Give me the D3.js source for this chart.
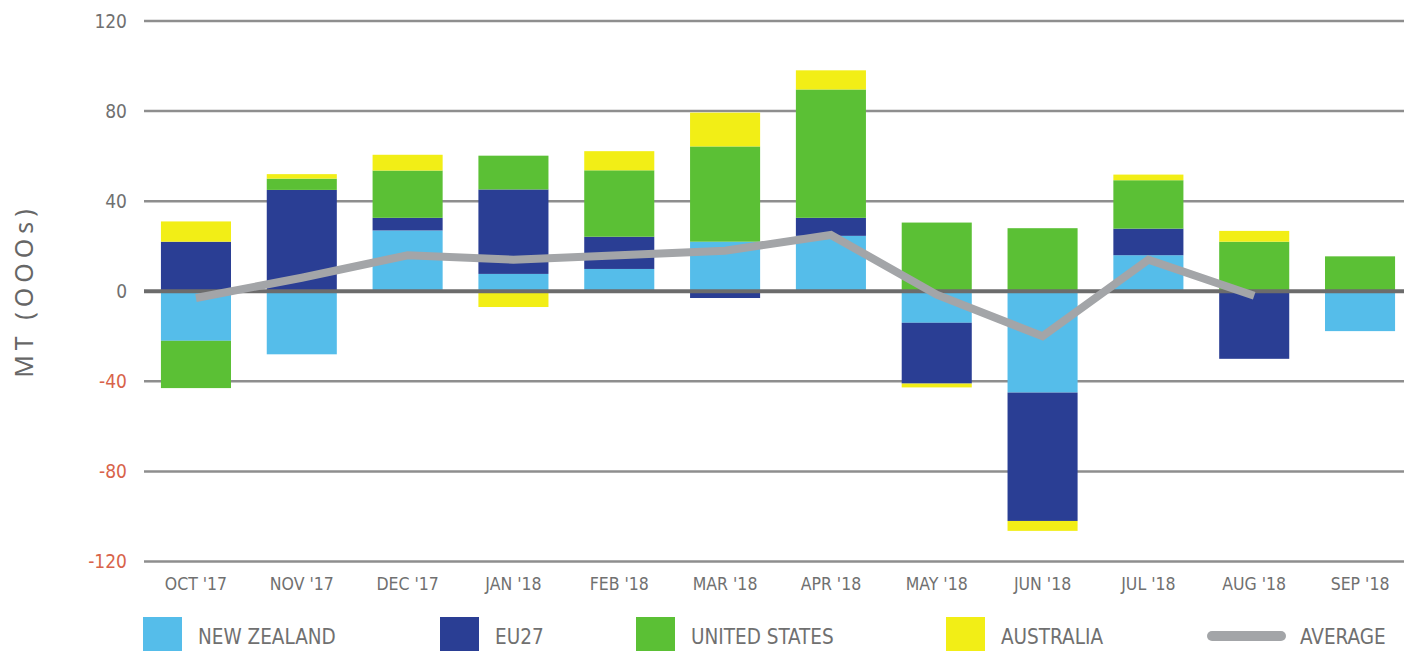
<!DOCTYPE html>
<html>
<head>
<meta charset="utf-8">
<script src="https://cdn.jsdelivr.net/npm/d3@7"></script>
<style>
  body { margin: 0; background: #fff; }
  text { font-family: 'Liberation Sans Narrow', 'DejaVu Sans Condensed', sans-serif; }
</style>
</head>
<body>
<script>
// values, MT (000s)
const months = ["OCT '17", "NOV '17", "DEC '17", "JAN '18", "FEB '18", "MAR '18",
                "APR '18", "MAY '18", "JUN '18", "JUL '18", "AUG '18", "SEP '18"];
const newZealand   = [-22, -28, 27, 7.7, 9.9, 22, 24.6, -14, -45, 16, 0, -17.7];
const eu27         = [22, 45, 5.6, 37.5, 14.3, -3, 8, -27, -57, 11.8, -30, 0];
const unitedStates = [-21, 5, 21, 15, 29.5, 42.3, 57, 30.5, 28, 21.5, 22, 15.5];
const australia    = [9, 2, 7, -7, 8.5, 15, 8.5, -1.7, -4.4, 2.5, 4.8, 0];
const average      = [-3, 6, 16, 14, 16, 18, 25, -1.5, -20, 14, -2, null];
const yTicks = [-120, -80, -40, 0, 40, 80, 120];

const seriesNames = ["NEW ZEALAND", "EU27", "UNITED STATES", "AUSTRALIA"];
const seriesColors = ["#55bdea", "#2a3e94", "#5bc035", "#f2ee16"];
const seriesValues = [newZealand, eu27, unitedStates, australia];

const width = 1404, height = 651;

const svg = d3.select("body")
    .append("svg")
    .attr("width", width)
    .attr("height", height);

const x = d3.scaleBand()
    .domain(months)
    .range([144, 1412])
    .paddingInner(0.338)
    .paddingOuter(0.16);

const y = d3.scaleLinear()
    .domain([-120, 120])
    .range([561.5, 21]);

// table for the stack
const table = months.map((m, i) => {
    const row = { month: m };
    seriesNames.forEach((s, j) => row[s] = seriesValues[j][i]);
    return row;
});

const stacked = d3.stack()
    .keys(seriesNames)
    .offset(d3.stackOffsetDiverging)(table);

// gridlines (behind bars)
svg.append("g")
    .selectAll("line")
    .data(yTicks.filter(d => d !== 0))
    .enter()
    .append("line")
    .attr("x1", 144)
    .attr("x2", width)
    .attr("y1", d => y(d))
    .attr("y2", d => y(d))
    .attr("stroke", "#8e8e8e")
    .attr("stroke-width", 2.5);

// y tick labels
svg.append("g")
    .selectAll("text")
    .data(yTicks)
    .enter()
    .append("text")
    .attr("x", 127)
    .attr("y", d => y(d))
    .attr("dy", "0.35em")
    .attr("text-anchor", "end")
    .attr("font-size", 19)
    .attr("fill", d => d < 0 ? "#d8634a" : "#707070")
    .text(d => d);

// y axis title
svg.append("text")
    .attr("transform", "translate(33,291) rotate(-90)")
    .attr("text-anchor", "middle")
    .attr("font-size", 25)
    .attr("letter-spacing", 5)
    .attr("fill", "#666")
    .style("font-family", "'Noto Sans', sans-serif")
    .text("MT (OOOs)");

// stacked bars
svg.append("g")
    .selectAll("g")
    .data(stacked)
    .enter()
    .append("g")
    .attr("fill", (d, i) => seriesColors[i])
    .selectAll("rect")
    .data(d => d)
    .enter()
    .append("rect")
    .attr("x", d => x(d.data.month))
    .attr("y", d => y(Math.max(d[0], d[1])))
    .attr("width", x.bandwidth())
    .attr("height", d => Math.abs(y(d[0]) - y(d[1])));

// zero line on top of the bars
svg.append("line")
    .attr("x1", 144)
    .attr("x2", width)
    .attr("y1", y(0))
    .attr("y2", y(0))
    .attr("stroke", "#6c6c6c")
    .attr("stroke-width", 4);

// average line
const line = d3.line()
    .defined(d => d !== null)
    .x((d, i) => x(months[i]) + x.bandwidth() / 2)
    .y(d => y(d));

svg.append("path")
    .datum(average)
    .attr("d", line)
    .attr("fill", "none")
    .attr("stroke", "#a3a5a8")
    .attr("stroke-width", 8)
    .attr("stroke-linejoin", "miter");

// x labels
svg.append("g")
    .selectAll("text")
    .data(months)
    .enter()
    .append("text")
    .attr("x", d => x(d) + x.bandwidth() / 2)
    .attr("y", 590)
    .attr("text-anchor", "middle")
    .attr("font-size", 17.5)
    .attr("fill", "#707070")
    .text(d => d);

// legend
const legendX = [143, 440, 636, 946];
const legend = svg.append("g");

legend.selectAll("rect")
    .data(seriesNames)
    .enter()
    .append("rect")
    .attr("x", (d, i) => legendX[i])
    .attr("y", 617)
    .attr("width", 39)
    .attr("height", 39)
    .attr("fill", (d, i) => seriesColors[i]);

legend.selectAll("text")
    .data(seriesNames)
    .enter()
    .append("text")
    .attr("x", (d, i) => legendX[i] + 55)
    .attr("y", 644)
    .attr("font-size", 20.5)
    .attr("fill", "#707070")
    .text(d => d);

legend.append("line")
    .attr("x1", 1212)
    .attr("x2", 1281)
    .attr("y1", 636)
    .attr("y2", 636)
    .attr("stroke", "#a3a5a8")
    .attr("stroke-width", 10)
    .attr("stroke-linecap", "round");

legend.append("text")
    .attr("x", 1300)
    .attr("y", 644)
    .attr("font-size", 20.5)
    .attr("fill", "#707070")
    .text("AVERAGE");
</script>
</body>
</html>
